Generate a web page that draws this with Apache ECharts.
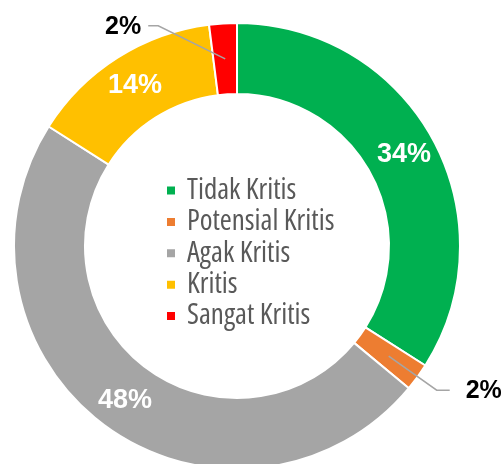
<!DOCTYPE html>
<html>
<head>
    <meta charset="utf-8">
    <script src="https://cdn.jsdelivr.net/npm/echarts@6/dist/echarts.min.js"></script>
    <style>
        html, body { margin: 0; padding: 0; background: #fff; }
        #main { width: 501px; height: 464px; }
    </style>
</head>
<body>
    <div id="main"></div>
    <script type="text/javascript">
        var categories = ['Tidak Kritis', 'Potensial Kritis', 'Agak Kritis', 'Kritis', 'Sangat Kritis'];
        var values = [34, 2, 48, 14, 2];
        var colors = ['#00B050', '#ED7D31', '#A5A5A5', '#FFC000', '#FF0000'];
        var outsideIdx = [1, 4];

        var cx = 237, cy = 246, rIn = 152, rOut = 223;
        var rMid = (rIn + rOut) / 2;
        var total = values.reduce(function (a, b) { return a + b; }, 0);

        // sudut tengah irisan (derajat, 90 = atas, searah jarum jam)
        function midAngle(i) {
            var before = 0;
            for (var k = 0; k < i; k++) before += values[k];
            return 90 - (before + values[i] / 2) / total * 360;
        }

        // tekukan garis label: [dx, dy, panjang horizontal]
        var bends = { 1: [48, 34, 13], 4: [-67, -33, -10] };

        var labelFont = "'Liberation Sans', Arial, sans-serif";

        // irisan berwarna, label putih di dalam
        var ringData = categories.map(function (name, i) {
            var out = outsideIdx.indexOf(i) >= 0;
            return {
                name: name,
                value: values[i],
                itemStyle: { color: colors[i] },
                label: { show: !out }
            };
        });

        // lapisan transparen di atasnya, hanya untuk label luar + garisnya
        var calloutData = categories.map(function (name, i) {
            var out = outsideIdx.indexOf(i) >= 0;
            return {
                name: name,
                value: values[i],
                label: { show: out },
                labelLine: { show: out }
            };
        });

        var myChart = echarts.init(document.getElementById('main'));
        myChart.setOption({
            animation: false,
            legend: {
                orient: 'vertical',
                left: 160,
                top: 171,
                icon: 'rect',
                itemWidth: 10,
                itemHeight: 10,
                itemGap: 2.4,
                data: categories,
                textStyle: {
                    fontFamily: "'Open Sans', sans-serif",
                    fontStyle: 'condensed',
                    fontSize: 29,
                    lineHeight: 27,
                    color: '#595959',
                    padding: [0, 0, 0, 6]
                }
            },
            series: [{
                type: 'pie',
                z: 2,
                center: [cx, cy],
                radius: [rIn, rOut],
                startAngle: 90,
                avoidLabelOverlap: false,
                itemStyle: { borderColor: '#fff', borderWidth: 2 },
                label: {
                    position: 'inside',
                    formatter: '{d}%',
                    color: '#fff',
                    fontSize: 27,
                    fontWeight: 'bold',
                    fontFamily: labelFont
                },
                labelLine: { show: false },
                data: ringData
            }, {
                type: 'pie',
                z: 5,
                silent: true,
                center: [cx, cy],
                radius: [rIn, rOut],
                startAngle: 90,
                avoidLabelOverlap: false,
                itemStyle: { color: 'rgba(0,0,0,0)', borderWidth: 0 },
                label: {
                    position: 'outside',
                    formatter: '{d}%',
                    color: '#000',
                    fontSize: 25,
                    fontWeight: 'bold',
                    fontFamily: labelFont
                },
                labelLine: { lineStyle: { color: '#A5A5A5', width: 1.5 } },
                labelLayout: function (p) {
                    var b = bends[p.dataIndex];
                    if (!b) return {};
                    var a = midAngle(p.dataIndex) * Math.PI / 180;
                    var s = [cx + rMid * Math.cos(a), cy - rMid * Math.sin(a)];
                    var e = [s[0] + b[0], s[1] + b[1]];
                    var f = [e[0] + b[2], e[1]];
                    var right = b[2] > 0;
                    return {
                        x: f[0] + (right ? 16 : -7),
                        y: f[1] + 1,
                        align: right ? 'left' : 'right',
                        verticalAlign: 'middle',
                        labelLinePoints: [s, e, f]
                    };
                },
                data: calloutData
            }]
        });
    </script>
</body>
</html>
